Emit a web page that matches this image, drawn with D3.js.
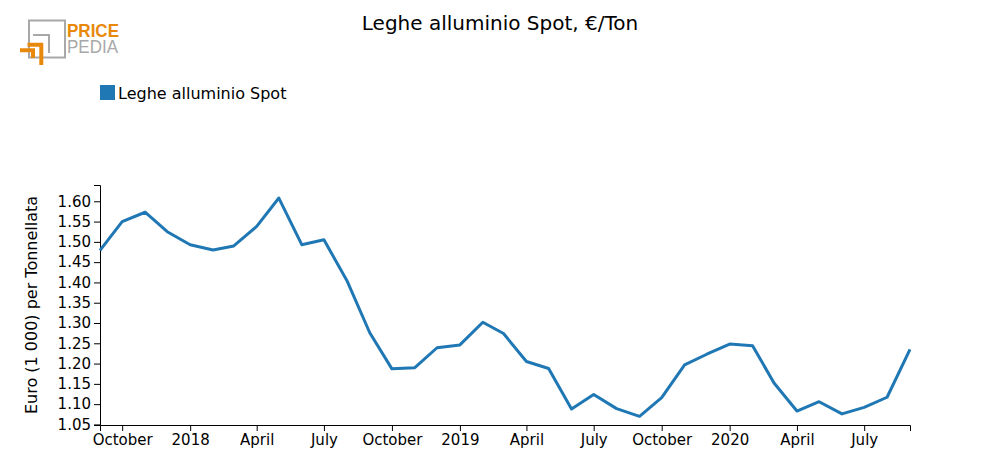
<!DOCTYPE html>
<html>
<head>
<meta charset="utf-8">
<script src="https://cdn.jsdelivr.net/npm/d3@7/dist/d3.min.js"></script>
<style>
  html, body { margin: 0; padding: 0; background: #fff; }
  svg { display: block; font-family: "DejaVu Sans", sans-serif; }
</style>
</head>
<body>
<svg id="chart" width="1000" height="475"></svg>
<script>
const chartTitle = "Leghe alluminio Spot, €/Ton";
const seriesName = "Leghe alluminio Spot";
const yAxisLabel = "Euro (1 000) per Tonnellata";
const months = [
  "2017-09","2017-10","2017-11","2017-12",
  "2018-01","2018-02","2018-03","2018-04","2018-05","2018-06","2018-07","2018-08","2018-09","2018-10","2018-11","2018-12",
  "2019-01","2019-02","2019-03","2019-04","2019-05","2019-06","2019-07","2019-08","2019-09","2019-10","2019-11","2019-12",
  "2020-01","2020-02","2020-03","2020-04","2020-05","2020-06","2020-07","2020-08","2020-09"
];
const values = [
  1.479,1.550,1.573,1.525,
  1.493,1.480,1.490,1.538,1.608,1.493,1.505,1.405,1.276,1.187,1.190,1.239,
  1.246,1.302,1.274,1.205,1.188,1.088,1.124,1.089,1.070,1.116,1.197,1.223,
  1.248,1.244,1.152,1.083,1.106,1.076,1.092,1.117,1.235
];
const yTicks = [1.05,1.10,1.15,1.20,1.25,1.30,1.35,1.40,1.45,1.50,1.55,1.60];

const parse = d3.timeParse("%Y-%m");
const data = months.map((m, i) => ({ date: parse(m), value: values[i] }));

const svg = d3.select("#chart");
const mLeft = 100, mRight = 910, mTop = 185, mBottom = 425;

const x = d3.scaleTime()
  .domain(d3.extent(data, d => d.date))
  .range([mLeft, mRight]);
const y = d3.scaleLinear()
  .domain([d3.min(values) * 0.98, d3.max(values) * 1.02])
  .range([mBottom, mTop]);

const multiFormat = d => {
  if (d3.timeYear(d) < d) return d3.timeFormat("%B")(d);
  return d3.timeFormat("%Y")(d);
};

// X axis
const gx = svg.append("g")
  .attr("transform", `translate(0,${mBottom})`)
  .call(d3.axisBottom(x).ticks(d3.timeMonth.every(3)).tickFormat(multiFormat).tickSizeOuter(6));
gx.selectAll("text").attr("font-size", 15).attr("fill", "#000").attr("font-family", "DejaVu Sans, sans-serif");
gx.selectAll("line,path").attr("stroke", "#000");

// Y axis
const gy = svg.append("g")
  .attr("transform", `translate(${mLeft},0)`)
  .call(d3.axisLeft(y).tickValues(yTicks).tickFormat(d3.format(".2f")).tickSizeOuter(6));
gy.selectAll("text").attr("font-size", 15).attr("fill", "#000").attr("font-family", "DejaVu Sans, sans-serif");
gy.selectAll("line,path").attr("stroke", "#000");

// Y label
svg.append("text")
  .attr("transform", `translate(37,${(mTop + mBottom) / 2}) rotate(-90)`)
  .attr("text-anchor", "middle")
  .attr("font-size", 16)
  .text(yAxisLabel);

// Line
svg.append("path")
  .datum(data)
  .attr("fill", "none")
  .attr("stroke", "#1f77b4")
  .attr("stroke-width", 3)
  .attr("stroke-linejoin", "round")
  .attr("d", d3.line().x(d => x(d.date)).y(d => y(d.value)));

// Title
svg.append("text")
  .attr("x", 500).attr("y", 30)
  .attr("text-anchor", "middle")
  .attr("font-size", 20)
  .text(chartTitle);

// Legend
svg.append("rect").attr("x", 100).attr("y", 85).attr("width", 15).attr("height", 15).attr("fill", "#1f77b4");
svg.append("text").attr("x", 118).attr("y", 99).attr("font-size", 16).text(seriesName);

// Logo
const logo = svg.append("g");
logo.append("rect").attr("x", 29).attr("y", 20.5).attr("width", 36).attr("height", 37)
  .attr("fill", "none").attr("stroke", "#a8a8a8").attr("stroke-width", 2);
logo.append("path").attr("d", "M33,35 H49 V53").attr("fill", "none").attr("stroke", "#a8a8a8").attr("stroke-width", 2);
logo.append("path").attr("d", "M27.5,44.7 H41.3 V65").attr("fill", "none").attr("stroke", "#e8890c").attr("stroke-width", 4);
logo.append("path").attr("d", "M20,50.3 H33 V58").attr("fill", "none").attr("stroke", "#e8890c").attr("stroke-width", 4);
logo.append("text").attr("x", 67).attr("y", 36.7).attr("font-size", 19).attr("font-weight", "bold")
  .attr("font-family", "Liberation Sans, Arial, sans-serif")
  .attr("textLength", 52).attr("lengthAdjust", "spacingAndGlyphs")
  .attr("fill", "#e8890c").text("PRICE");
logo.append("text").attr("x", 67).attr("y", 53.3).attr("font-size", 19)
  .attr("font-family", "Liberation Sans, Arial, sans-serif")
  .attr("textLength", 51).attr("lengthAdjust", "spacingAndGlyphs")
  .attr("fill", "#a8a8a8").text("PEDIA");
</script>
</body>
</html>
